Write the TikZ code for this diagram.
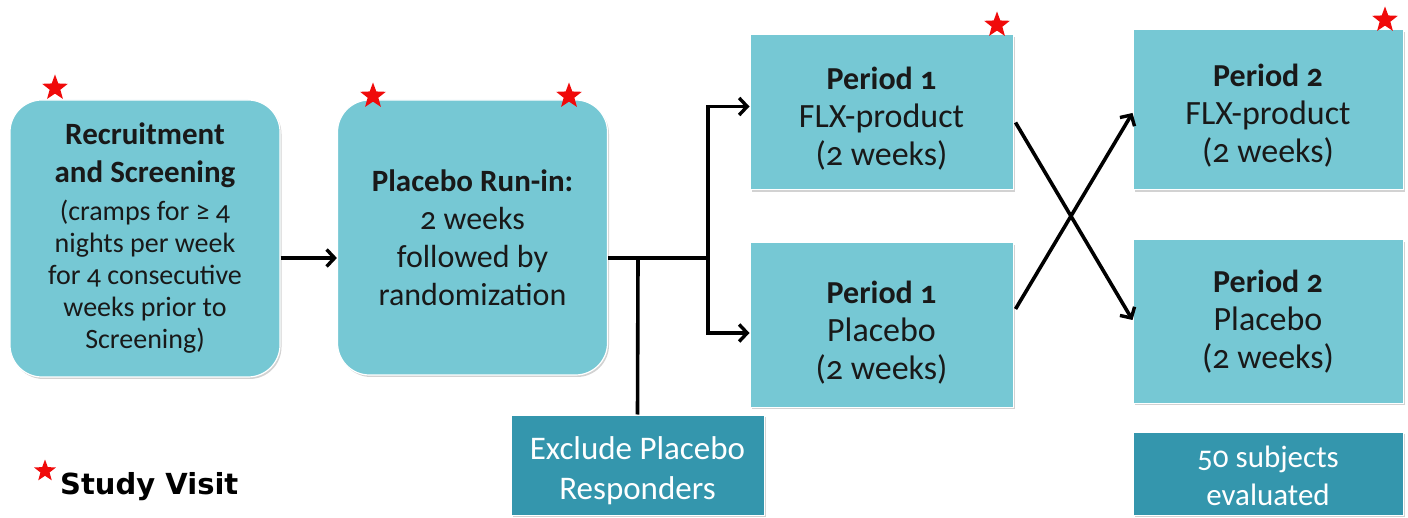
\documentclass[tikz,border=0pt]{standalone}
\usepackage{fontspec}
\setmainfont{Carlito}[Numbers=OldStyle]
\newfontfamily\legendfont{DejaVu Sans}
\usetikzlibrary{shapes.geometric,arrows.meta,shadows}
\definecolor{lightteal}{RGB}{118,200,212}
\definecolor{darkteal}{RGB}{52,150,173}
\definecolor{txt}{RGB}{25,25,25}
\definecolor{starred}{RGB}{240,10,10}
\newcommand{\pushdown}[1]{\rule{0pt}{#1}}
\tikzset{
  rbox/.style={draw=white, line width=1.2pt, fill=lightteal, rounded corners=32pt, align=center, text=txt,
    drop shadow={shadow xshift=1.5pt, shadow yshift=-2pt, fill=black!35, opacity=0.5}},
  pbox/.style={draw=white, line width=1pt, fill=lightteal, align=center, text=txt,
    drop shadow={shadow xshift=1.5pt, shadow yshift=-2pt, fill=black!35, opacity=0.5}},
  dbox/.style={draw=white, line width=1pt, fill=darkteal, align=center, text=white,
    drop shadow={shadow xshift=1.5pt, shadow yshift=-2pt, fill=black!35, opacity=0.5}},
  conn/.style={line width=3.6pt, black},
  arr/.style={conn, -{Straight Barb[length=8pt,width=17pt,line width=3.4pt]}},
  visit/.style={star, star points=5, star point ratio=2.4, fill=starred, draw=none, inner sep=0pt, minimum size=27pt},
}
\begin{document}
\begin{tikzpicture}[x=1pt,y=-1pt]
\useasboundingbox (0,0) rectangle (1408,518);
% boxes
\node[rbox, minimum width=270pt, minimum height=277pt, font=\fontsize{28}{32}\selectfont] (b1) at (145,238.5)
  {{\fontsize{31}{38}\selectfont\bfseries Recruitment}\\[6pt] {\fontsize{31}{38}\selectfont\bfseries and Screening}\\[6pt]
   (cramps for ≥ 4\\ nights per week\\ for 4 consecutive\\ weeks prior to\\ Screening)};
\node[rbox, minimum width=270pt, minimum height=275pt, font=\fontsize{32}{38}\selectfont] (b2) at (472.5,237.5)
  {{\fontsize{31}{38}\selectfont\bfseries Placebo Run-in:}\\ 2 weeks\\ followed by\\ randomization};
\node[dbox, minimum width=253pt, minimum height=100pt, font=\fontsize{33}{40}\selectfont] (ex) at (637.5,465)
  {\pushdown{34pt}Exclude Placebo\\ Responders};
\node[pbox, minimum width=263pt, minimum height=155pt, font=\fontsize{34}{38}\selectfont] (p1f) at (881.5,112.5)
  {\pushdown{34pt}{\fontsize{32}{38}\selectfont\bfseries Period 1}\\ FLX-product\\ (2 weeks)};
\node[pbox, minimum width=263pt, minimum height=164pt, font=\fontsize{34}{38}\selectfont] (p1p) at (881.5,325)
  {\pushdown{37pt}{\fontsize{32}{38}\selectfont\bfseries Period 1}\\ Placebo\\ (2 weeks)};
\node[pbox, minimum width=270pt, minimum height=160pt, font=\fontsize{34}{38}\selectfont] (p2f) at (1268,110)
  {\pushdown{33pt}{\fontsize{32}{38}\selectfont\bfseries Period 2}\\ FLX-product\\ (2 weeks)};
\node[pbox, minimum width=270pt, minimum height=163pt, font=\fontsize{34}{38}\selectfont] (p2p) at (1268,321.5)
  {{\fontsize{32}{38}\selectfont\bfseries Period 2}\\ Placebo\\ (2 weeks)};
\node[dbox, minimum width=270pt, minimum height=83pt, font=\fontsize{31}{38}\selectfont] (ev) at (1268,473.5)
  {\pushdown{27pt}50 subjects\\ evaluated};
% stars
\node[visit] (s1) at (55,88) {};
\node[visit] (s2) at (373,96) {};
\node[visit] (s3) at (569,96) {};
\node[visit] (s4) at (997,25) {};
\node[visit] (s5) at (1385,20) {};
% legend
\node[visit, minimum size=23pt] (ls) at (45,471) {};
\node[anchor=base west, inner sep=0pt, font=\legendfont\bfseries\fontsize{29}{34}\selectfont] (lt) at (60,494) {Study Visit};
% connectors
\coordinate (split) at (638,258);
\coordinate (fork) at (708,258);
\draw[arr] (b1.east |- split) -- (b2.west |- split);
\draw[conn] (b2.east |- split) -- (fork);
\draw[conn] (split) -- (ex.north);
\draw[arr] (fork) |- ([yshift=6pt]p1f.west);
\draw[arr] (fork) |- ([yshift=-8pt]p1p.west);
\draw[arr] ([xshift=2pt,yshift=-10pt]p1f.east) -- ([yshift=1.5pt]p2p.west);
\draw[arr] ([xshift=2pt,yshift=16pt]p1p.east) -- ([yshift=-3pt]p2f.west);
\end{tikzpicture}
\end{document}
